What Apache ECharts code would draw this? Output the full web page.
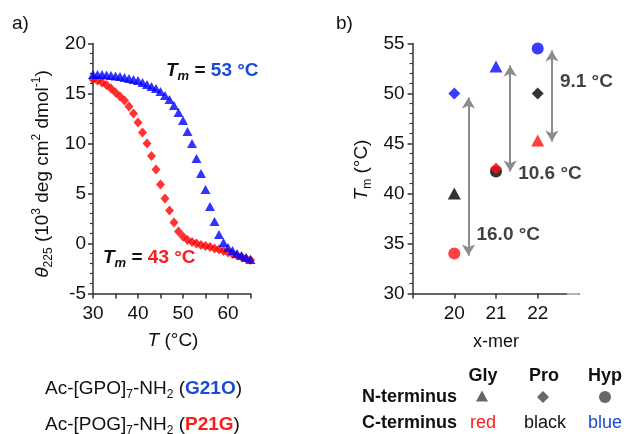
<!DOCTYPE html>
<html><head><meta charset="utf-8">
<script src="https://cdn.jsdelivr.net/npm/echarts@6/dist/echarts.min.js"></script>
<style>html,body{margin:0;padding:0;background:#fff}#c{width:626px;height:434px}</style>
</head><body><div id="c"></div>
<script>
// ---- Panel a data: CD melting curves ----
const temps = [30,31,32,33,34,35,36,37,38,39,40,41,42,43,44,45,46,47,48,49,50,51,52,53,54,55,56,57,58,59,60,61,62,63,64,65];
const g21o = [16.9,16.9,16.9,16.85,16.8,16.75,16.7,16.6,16.5,16.4,16.3,16.1,15.9,15.7,15.5,15.2,14.8,14.4,13.8,13.1,12.3,11.2,10.0,8.5,7.0,5.4,3.7,2.2,0.9,0.1,-0.4,-0.7,-1.0,-1.2,-1.4,-1.6];
const p21g = [16.4,16.3,16.1,15.85,15.5,15.1,14.7,14.3,13.7,13.0,12.1,11.1,10.0,8.75,7.4,5.9,4.5,3.3,2.1,1.2,0.7,0.35,0.15,0.0,-0.15,-0.25,-0.35,-0.5,-0.6,-0.75,-0.9,-1.05,-1.2,-1.35,-1.5,-1.65];
const xTicksA = [30,40,50,60];
const yTicksA = [-5,0,5,10,15,20];

// ---- Panel b data: Tm vs x-mer ----
const xmer = [20,21,22];
const circleTm = [34.0, 42.2, 54.5];   // N-terminus Hyp
const circleColor = ['red','black','blue'];
const diamondTm = [50.0, 42.5, 50.0];  // N-terminus Pro
const diamondColor = ['blue','red','black'];
const triangleTm = [40.0, 52.7, 45.3]; // N-terminus Gly
const triangleColor = ['black','blue','red'];
const arrowTop = [49.6, 52.8, 54.3];
const arrowBottom = [33.8, 42.2, 45.2];
const diffLabels = ['16.0 °C','10.6 °C','9.1 °C'];
const diffLabelTm = [35.9, 42.0, 51.2];
const yTicksB = [30,35,40,45,50,55];

const COL = {red:'#ff1010', black:'#000000', blue:'#0a0aff'};
const TXTBLUE = '#1a4bd6';
const TXTRED = '#ff1a1a';
const FF = '"Liberation Sans", Arial, sans-serif';
const AX = '#333333';
const FS = 19;

function axisCommon(){
  return {
    axisLine:{show:true, onZero:false, lineStyle:{color:AX, width:1.5}},
    axisTick:{show:true, inside:false, length:5, lineStyle:{color:AX, width:1.5}},
    splitLine:{show:false},
    axisLabel:{color:'#111', fontFamily:FF, fontSize:FS}
  };
}

const chart = echarts.init(document.getElementById('c'), null, {renderer:'canvas'});

const xA = Object.assign(axisCommon(), {type:'value', gridIndex:0, min:30, max:65, interval:5});
xA.axisLabel = Object.assign(xA.axisLabel, {margin:11, formatter:v => xTicksA.includes(v) ? String(v) : ''});
const yA = Object.assign(axisCommon(), {type:'value', gridIndex:0, min:-5, max:20, interval:5,
  minorTick:{show:true, splitNumber:5, length:3, lineStyle:{color:AX, width:1.2}}});
yA.axisLabel = Object.assign(yA.axisLabel, {margin:7, formatter:v => yTicksA.includes(v) ? String(v) : ''});

const xB = Object.assign(axisCommon(), {type:'value', gridIndex:1, min:19, max:23, interval:1});
xB.axisTick.customValues = [19].concat(xmer);
xB.axisLabel = Object.assign(xB.axisLabel, {margin:11, customValues: xmer, formatter:v => xmer.includes(v) ? String(v) : ''});
const yB = Object.assign(axisCommon(), {type:'value', gridIndex:1, min:30, max:55, interval:5,
  minorTick:{show:true, splitNumber:5, length:3, lineStyle:{color:AX, width:1.2}}});
yB.axisLabel = Object.assign(yB.axisLabel, {margin:8, formatter:v => yTicksB.includes(v) ? String(v) : ''});

function ptsB(vals, cols){
  return xmer.map((x,i)=>({value:[x, vals[i]], itemStyle:{color:COL[cols[i]]}}));
}

function rs(o){ // rich style with both fill and color
  return Object.assign({fontFamily:FF, fontSize:FS, lineHeight:24}, o, {fill:o.fill||'#111', color:o.fill||'#111'});
}
const rich = {
  n: rs({}),
  i: rs({fontStyle:'italic'}),
  sup: rs({fontSize:12, lineHeight:12, verticalAlign:'top'}),
  sub: rs({fontSize:12, lineHeight:12, verticalAlign:'bottom'}),
  bi: rs({fontStyle:'italic', fontWeight:'bold'}),
  bisub: rs({fontSize:13, fontStyle:'italic', fontWeight:'bold', lineHeight:12, verticalAlign:'bottom'}),
  b: rs({fontWeight:'bold'}),
  bs: rs({fontWeight:'bold', fontSize:18}),
  bblue: rs({fontWeight:'bold', fill:TXTBLUE}),
  bred: rs({fontWeight:'bold', fill:TXTRED}),
  red: rs({fontSize:18, fill:TXTRED}),
  blue: rs({fontSize:18, fill:TXTBLUE}),
  ns: rs({fontSize:18})
};

function txt(x, y, text, align, extra){
  return Object.assign({type:'text', x:x, y:y, silent:true,
    style:{text:text, rich:rich, align:align||'left', verticalAlign:'middle', font:FS+'px '+FF, fill:'#111'}}, extra||{});
}

const graphic = [
  txt(12, 24, '{n|a)}'),
  txt(336, 24, '{n|b)}'),
  txt(166, 71, '{bi|T}{bisub|m}{b| = }{bblue|53 °C}'),
  txt(103, 258, '{bi|T}{bisub|m}{b| = }{bred|43 °C}'),
  txt(173, 341, '{i|T}{n| (°C)}', 'center'),
  txt(43, 174, '{i|θ}{sub|225}{n| (10}{sup|3}{n| deg cm}{sup|2}{n| dmol}{sup|-1}{n|)}', 'center', {rotation:Math.PI/2}),
  txt(362, 170, '{i|T}{sub|m}{n| (°C)}', 'center', {rotation:Math.PI/2}),
  txt(496, 342, '{ns|x-mer}', 'center'),
  txt(45, 389, '{n|Ac-[GPO]}{sub|7}{n|-NH}{sub|2}{n| (}{bblue|G21O}{n|)}'),
  txt(45, 425, '{n|Ac-[POG]}{sub|7}{n|-NH}{sub|2}{n| (}{bred|P21G}{n|)}'),
  txt(483, 376, '{bs|Gly}', 'center'),
  txt(544, 376, '{bs|Pro}', 'center'),
  txt(605, 376, '{bs|Hyp}', 'center'),
  txt(457, 397, '{bs|N-terminus}', 'right'),
  txt(457, 423, '{bs|C-terminus}', 'right'),
  txt(483, 423, '{red|red}', 'center'),
  txt(545, 423, '{ns|black}', 'center'),
  txt(605, 423, '{blue|blue}', 'center'),
  {type:'polygon', silent:true, shape:{points:[[482,390.5],[476,401.5],[488,401.5]]}, style:{fill:'#666'}},
  {type:'polygon', silent:true, shape:{points:[[543,391],[549,397],[543,403],[537,397]]}, style:{fill:'#666'}},
  {type:'circle', silent:true, shape:{cx:605, cy:397, r:6}, style:{fill:'#666'}}
];

const option = {
  backgroundColor:'#ffffff',
  animation:false,
  grid:[
    {left:93, top:43.5, width:157.5, height:250},
    {left:412.6, top:43.5, width:166.8, height:250}
  ],
  xAxis:[xA, xB],
  yAxis:[yA, yB],
  graphic: graphic,
  series:[
    {type:'scatter', xAxisIndex:0, yAxisIndex:0, symbol:'diamond', symbolSize:[9,10],
      itemStyle:{color:'#ff0000'}, data: temps.map((t,i)=>[t, p21g[i]])},
    {type:'scatter', xAxisIndex:0, yAxisIndex:0, symbol:'triangle', symbolSize:[10,9],
      itemStyle:{color:'#0000ff'}, data: temps.map((t,i)=>[t, g21o[i]])},
    {type:'scatter', xAxisIndex:1, yAxisIndex:1, symbol:'circle', symbolSize:12, data: ptsB(circleTm, circleColor)},
    {type:'scatter', xAxisIndex:1, yAxisIndex:1, symbol:'diamond', symbolSize:[12,12], data: ptsB(diamondTm, diamondColor)},
    {type:'scatter', xAxisIndex:1, yAxisIndex:1, symbol:'triangle', symbolSize:[13,12], data: ptsB(triangleTm, triangleColor)},
    {type:'scatter', xAxisIndex:1, yAxisIndex:1, symbolSize:0, silent:true,
      data: xmer.map((x,i)=>({value:[x+0.34, diffLabelTm[i]], label:{show:true, position:'right', distance:8,
        formatter: diffLabels[i], color:'#111', fontFamily:FF, fontSize:FS, fontWeight:'bold'}})),
      markLine:{silent:true, symbol:['arrow','arrow'], symbolSize:[10,11], label:{show:false},
        lineStyle:{color:'#8c8c8c', width:2, type:'solid'},
        data: xmer.map((x,i)=>[{coord:[x+0.34, arrowBottom[i]]},{coord:[x+0.34, arrowTop[i]]}])}
    },
    {type:'scatter', xAxisIndex:1, yAxisIndex:1, data:[], silent:true,
      markLine:{silent:true, symbol:['none','none'], label:{show:false}, lineStyle:{color:'#c8c8c8', width:1.6, type:'solid'},
        data:[[{coord:[22.7,30]},{coord:[23,30]}]]}}
  ]
};
chart.setOption(option);
</script>
</body></html>
